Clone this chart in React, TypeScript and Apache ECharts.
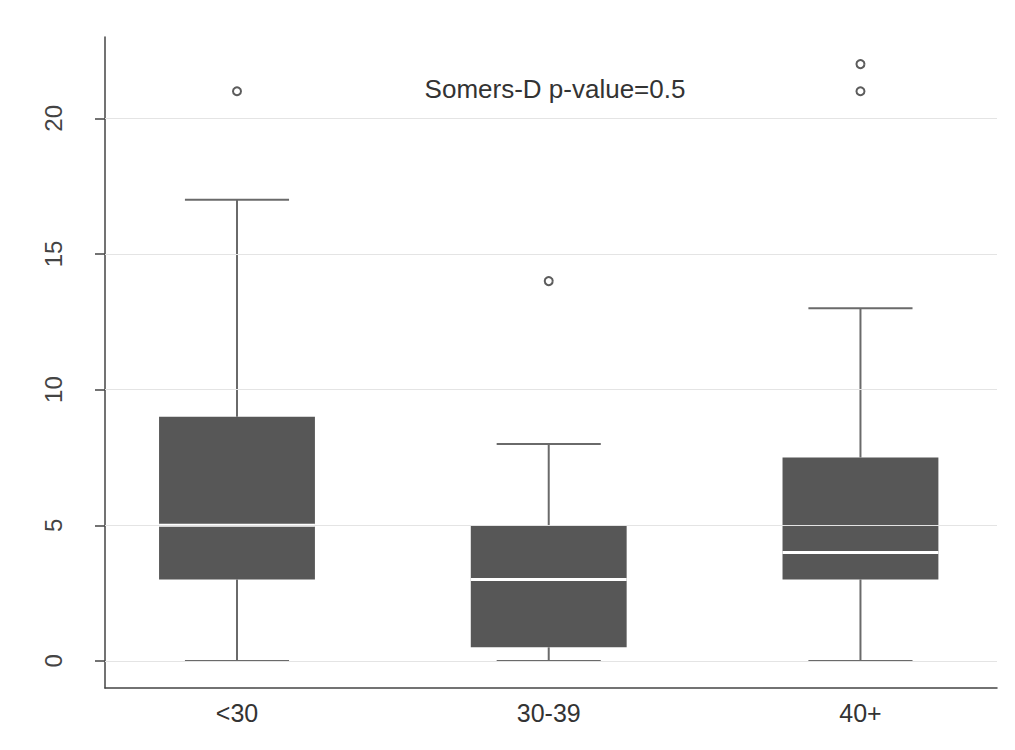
import React, { useEffect, useRef } from "react";
import * as echarts from "echarts";

const categories = ["<30", "30-39", "40+"];
const lowerWhisker = [0, 0, 0];
const q1 = [3, 0.5, 3];
const median = [5, 3, 4];
const q3 = [9, 5, 7.5];
const upperWhisker = [17, 8, 13];
// [category index, value]
const outliers: [number, number][] = [
  [0, 21],
  [1, 14],
  [2, 21],
  [2, 22],
];
const yTicks = [0, 5, 10, 15, 20];
const annotation = "Somers-D p-value=0.5";

const FONT = "'Liberation Sans', Arial, Helvetica, sans-serif";

export default function App() {
  const ref = useRef<HTMLDivElement>(null);
  useEffect(() => {
    if (!ref.current) return;
    const chart = echarts.init(ref.current, null, { renderer: "svg" });
    const boxData = categories.map((_, i) => [
      i + 1,
      lowerWhisker[i],
      q1[i],
      median[i],
      q3[i],
      upperWhisker[i],
    ]);
    const option: any = {
      animation: false,
      backgroundColor: "#ffffff",
      grid: { left: 105, right: 18, top: 37, bottom: 62 },
      xAxis: {
        type: "value",
        min: 0.5766,
        max: 3.438,
        splitLine: { show: false },
        axisTick: { show: false },
        axisLine: { show: true, onZero: false, lineStyle: { color: "#444", width: 1.5 } },
        axisLabel: {
          customValues: [1, 2, 3],
          formatter: (v: number) => categories[Math.round(v) - 1] ?? "",
          fontSize: 25,
          fontFamily: FONT,
          color: "#333",
          margin: 12,
        },
      },
      yAxis: {
        type: "value",
        min: -1,
        max: 23,
        splitLine: { show: false },
        axisLine: { show: true, onZero: false, lineStyle: { color: "#444", width: 1.5 } },
        axisTick: {
          show: true,
          customValues: yTicks,
          length: 10,
          lineStyle: { color: "#444", width: 1.5 },
        },
        axisLabel: {
          customValues: yTicks,
          rotate: 90,
          fontSize: 24,
          fontFamily: FONT,
          color: "#444",
          margin: 40,
        },
      },
      graphic: [
        {
          type: "text",
          x: 555,
          y: 89,
          style: {
            text: annotation,
            fontSize: 26,
            fontFamily: FONT,
            fill: "#333",
            textAlign: "center",
            textVerticalAlign: "middle",
          },
        },
      ],
      series: [
        {
          type: "line",
          data: [],
          z: 1,
          markLine: {
            silent: true,
            symbol: "none",
            label: { show: false },
            lineStyle: { color: "#e4e4e4", type: "solid", width: 1 },
            data: yTicks.map((v) => ({ yAxis: v })),
          },
        },
        {
          type: "custom",
          z: 3,
          data: boxData,
          renderItem: (params: any, api: any) => {
            const x = api.value(0);
            const lo = api.value(1);
            const b1 = api.value(2);
            const med = api.value(3);
            const b3 = api.value(4);
            const hi = api.value(5);
            const pLo = api.coord([x, lo]);
            const p1 = api.coord([x, b1]);
            const pMed = api.coord([x, med]);
            const p3 = api.coord([x, b3]);
            const pHi = api.coord([x, hi]);
            const halfBox = api.size([0.25, 0])[0];
            const halfCap = api.size([0.167, 0])[0];
            const cx = pLo[0];
            const wStyle = { stroke: "#6a6a6a", lineWidth: 2 };
            return {
              type: "group",
              children: [
                { type: "line", shape: { x1: cx, y1: pLo[1], x2: cx, y2: p1[1] }, style: wStyle },
                { type: "line", shape: { x1: cx, y1: p3[1], x2: cx, y2: pHi[1] }, style: wStyle },
                { type: "line", shape: { x1: cx - halfCap, y1: pLo[1], x2: cx + halfCap, y2: pLo[1] }, style: wStyle },
                { type: "line", shape: { x1: cx - halfCap, y1: pHi[1], x2: cx + halfCap, y2: pHi[1] }, style: wStyle },
                {
                  type: "rect",
                  shape: { x: cx - halfBox, y: p3[1], width: halfBox * 2, height: p1[1] - p3[1] },
                  style: { fill: "#575757" },
                },
                {
                  type: "line",
                  shape: { x1: cx - halfBox, y1: pMed[1], x2: cx + halfBox, y2: pMed[1] },
                  style: { stroke: "#ffffff", lineWidth: 3 },
                },
              ],
            };
          },
        },
        {
          type: "scatter",
          z: 4,
          symbol: "circle",
          symbolSize: 8,
          data: outliers.map(([i, v]) => [i + 1, v]),
          itemStyle: { color: "rgba(0,0,0,0)", borderColor: "#333", borderWidth: 2 },
        },
      ],
    };
    chart.setOption(option);
    return () => chart.dispose();
  }, []);
  return (
    <div
      ref={ref}
      style={{ position: "fixed", left: 0, top: 0, width: 1015, height: 750, background: "#fff" }}
    />
  );
}
